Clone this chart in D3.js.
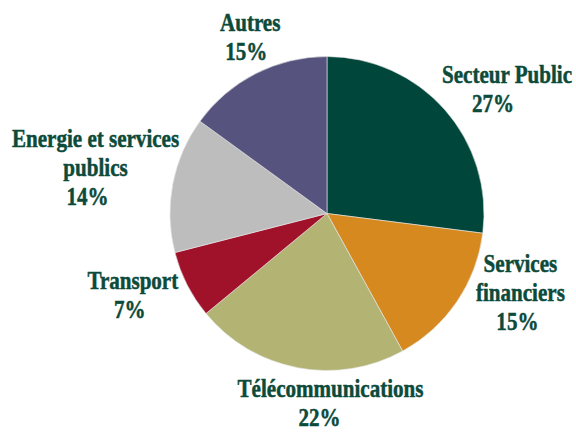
<!DOCTYPE html>
<meta charset="utf-8">
<style>
body { margin: 0; background: #fff; }
text {
  font-family: "Liberation Serif", "Times New Roman", serif;
  font-weight: bold;
  fill: #0c4a3a;
  stroke: #0c4a3a;
  stroke-width: 0.5px;
}
</style>
<body>
<script src="https://d3js.org/d3.v7.min.js"></script>
<script>

// data, clockwise from 12 o'clock
var sectors = ["Secteur Public", "Services financiers", "Télécommunications",
               "Transport", "Energie et services publics", "Autres"];
var shares = [27, 15, 22, 7, 14, 15];
var labelLines = [["Secteur Public"], ["Services", "financiers"], ["Télécommunications"],
                  ["Transport"], ["Energie et services", "publics"], ["Autres"]];
var colors = ["#00463a", "#d5891f", "#b3b374", "#a0122a", "#bdbdbd", "#56547f"];

// label nudges (layout only)
var nudge = [[30, 9], [28, -32], [41, -5], [-16, -8], [-35, -7], [14, 3]];
var pctShift = [-14, -3, -11, -3, -8, -4];

var width = 576, height = 432;
var cx = 327, cy = 213.5, radius = 157, labelR = 200, lineH = 29;

var svg = d3.select("body").append("svg")
    .attr("width", width)
    .attr("height", height);

var pie = d3.pie().sort(null).value(function(d) { return d; });
var arcs = pie(shares);

var arc = d3.arc().innerRadius(0).outerRadius(radius);
var labelArc = d3.arc().innerRadius(labelR).outerRadius(labelR);

var g = svg.append("g")
    .attr("transform", "translate(" + cx + "," + cy + ")");

g.selectAll("path")
  .data(arcs)
  .enter().append("path")
    .attr("d", arc)
    .attr("fill", function(d, i) { return colors[i]; })
    .attr("stroke", "#e8e8e8")
    .attr("stroke-width", 0.6);

// labels
arcs.forEach(function(d, i) {
  var c = labelArc.centroid(d);
  var lines = labelLines[i].concat([shares[i] + "%"]);
  var n = lines.length;
  var x = c[0] + nudge[i][0];
  var y0 = c[1] + nudge[i][1] - (n - 1) * lineH / 2 + 7;
  lines.forEach(function(t, j) {
    var dx = (j === n - 1) ? pctShift[i] : 0;
    g.append("g")
      .attr("transform", "translate(" + (x + dx) + "," + (y0 + j * lineH) + ")")
      .append("text")
        .attr("transform", "scale(0.81,1)")
        .attr("text-anchor", "middle")
        .attr("font-size", 26)
        .text(t);
  });
});

</script>
</body>
